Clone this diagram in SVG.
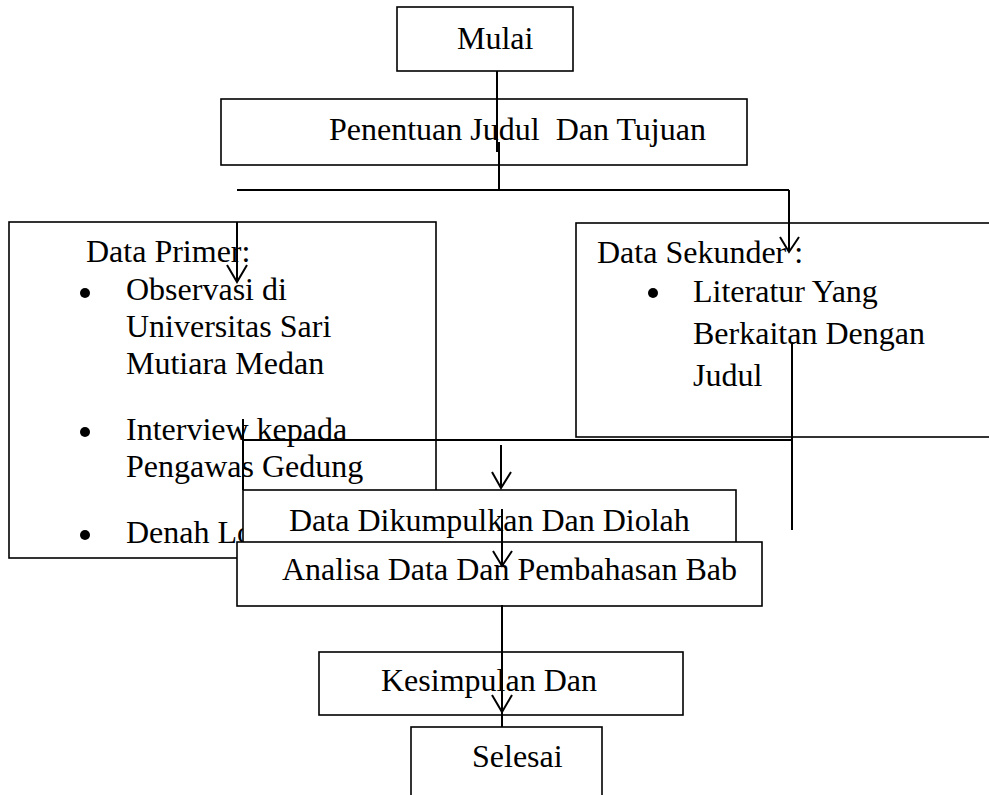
<svg xmlns="http://www.w3.org/2000/svg" width="989" height="795" viewBox="0 0 989 795">
<style>
.box{fill:#fff;stroke:#000;stroke-width:1.6}
.t{font-family:"Liberation Serif","Times New Roman",serif;font-size:32px;fill:#000}
.c{fill:none;stroke:#000;stroke-width:2}
.b{fill:#000}
</style>
<rect width="989" height="795" fill="#fff"/>
<g id="mulai">
<rect class="box" x="397" y="7" width="176" height="64"/>
<text class="t" x="457" y="49">Mulai</text>
</g>
<g id="penentuan">
<rect class="box" x="221" y="99" width="526" height="66"/>
<text class="t" x="329" y="140" xml:space="preserve">Penentuan Judul  Dan Tujuan</text>
</g>
<g id="data-primer">
<rect class="box" x="9" y="222" width="427" height="336"/>
<text class="t" x="86" y="262">Data Primer:</text>
<circle class="b" cx="85" cy="293" r="5"/>
<text class="t" x="126" y="300">Observasi di</text>
<text class="t" x="126" y="337">Universitas Sari</text>
<text class="t" x="126" y="374">Mutiara Medan</text>
<circle class="b" cx="85" cy="432" r="5"/>
<text class="t" x="126" y="440">Interview kepada</text>
<text class="t" x="126" y="477">Pengawas Gedung</text>
<circle class="b" cx="85" cy="535" r="5"/>
<text class="t" x="126" y="543">Denah Lo</text>
</g>
<g id="data-sekunder">
<rect class="box" x="576" y="223" width="430" height="214"/>
<text class="t" x="597" y="263">Data Sekunder :</text>
<circle class="b" cx="653" cy="293" r="5"/>
<text class="t" x="693" y="302">Literatur Yang</text>
<text class="t" x="693" y="344">Berkaitan Dengan</text>
<text class="t" x="693" y="386">Judul</text>
</g>
<g id="dikumpulkan">
<rect class="box" x="243" y="490" width="493" height="60"/>
<text class="t" x="289" y="531">Data Dikumpulkan Dan Diolah</text>
</g>
<g id="analisa">
<rect class="box" x="237" y="542" width="525" height="64"/>
<text class="t" x="282" y="580">Analisa Data Dan Pembahasan Bab</text>
</g>
<g id="kesimpulan">
<rect class="box" x="319" y="652" width="364" height="63"/>
<text class="t" x="381" y="691">Kesimpulan Dan</text>
</g>
<g id="selesai">
<rect class="box" x="411" y="727" width="191" height="90"/>
<text class="t" x="472" y="767">Selesai</text>
</g>
<g id="connectors">
<line class="c" x1="497" y1="71" x2="497" y2="152"/>
<line class="c" x1="499" y1="142" x2="499" y2="191"/>
<line class="c" x1="237" y1="190" x2="789" y2="190"/>
<line class="c" x1="789" y1="190" x2="789" y2="251"/>
<polyline class="c" points="780,237 789,252 799,237"/>
<line class="c" x1="237" y1="222" x2="237" y2="281"/>
<polyline class="c" points="227,265 237,282 247,265"/>
<line class="c" x1="243" y1="419" x2="243" y2="490"/>
<line class="c" x1="243" y1="440" x2="793" y2="440"/>
<line class="c" x1="792" y1="342" x2="792" y2="530"/>
<line class="c" x1="501" y1="445" x2="501" y2="487"/>
<polyline class="c" points="492,472 501,488 511,472"/>
<line class="c" x1="502" y1="509" x2="502" y2="565"/>
<polyline class="c" points="493,551 502,566 512,551"/>
<line class="c" x1="502" y1="605" x2="502" y2="727"/>
<polyline class="c" points="492,695 502,712 512,695"/>
</g>
</svg>
